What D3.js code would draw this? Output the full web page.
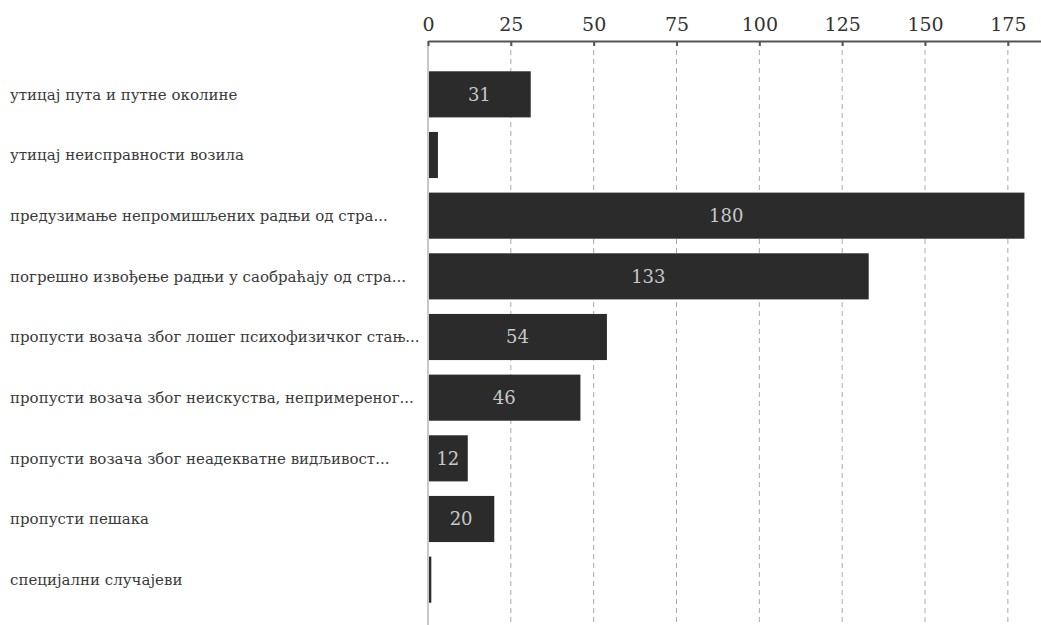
<!DOCTYPE html>
<html><head><meta charset="utf-8">
<script src="https://cdn.jsdelivr.net/npm/d3@7"></script>
<style>body{margin:0;background:#fff}svg{display:block}</style>
</head><body><svg id="c" width="1041" height="625"></svg>
<script>
const categories = [
  "утицај пута и путне околине",
  "утицај неисправности возила",
  "предузимање непромишљених радњи од стра...",
  "погрешно извођење радњи у саобраћају од стра...",
  "пропусти возача због лошег психофизичког стањ...",
  "пропусти возача због неискуства, непримереног...",
  "пропусти возача због неадекватне видљивост...",
  "пропусти пешака",
  "специјални случајеви"
];
const values = [31, 3, 180, 133, 54, 46, 12, 20, 1];
const tickValues = [0, 25, 50, 75, 100, 125, 150, 175];

const svg = d3.select("#c");
const x = d3.scaleLinear().domain([0, 185]).range([428, 1041]);
const y = d3.scaleBand().domain(categories).range([64, 610]).paddingInner(0.24).paddingOuter(0.12);
const font = "DejaVu Serif";

// grid
svg.append("g").selectAll("line").data(tickValues.slice(1)).join("line")
  .attr("x1", d => x(d)).attr("x2", d => x(d)).attr("y1", 41).attr("y2", 625)
  .attr("stroke", "#aaa").attr("stroke-dasharray", "5,4").attr("stroke-width", 1);

// bars
svg.append("g").selectAll("rect").data(values).join("rect")
  .attr("x", x(0)).attr("y", (d, i) => y(categories[i]))
  .attr("width", d => x(d) - x(0)).attr("height", y.bandwidth())
  .attr("fill", "#2b2b2b");

// zero line
svg.append("line").attr("x1", x(0)).attr("x2", x(0)).attr("y1", 41).attr("y2", 625)
  .attr("stroke", "#c8c8c8").attr("stroke-width", 2);

// value labels
svg.append("g").selectAll("text").data(values.map((v, i) => ({v, c: categories[i]})).filter(d => d.v >= 10)).join("text")
  .attr("x", d => (x(d.v) + x(0)) / 2)
  .attr("y", d => y(d.c) + y.bandwidth() / 2)
  .attr("dy", "0.35em").attr("text-anchor", "middle")
  .attr("font-family", font).attr("font-size", 18).attr("fill", "#c8c8c8")
  .text(d => d.v);

// top axis
const axis = d3.axisTop(x).tickValues(tickValues).tickSize(-5).tickSizeOuter(0).tickPadding(10);
const ag = svg.append("g").attr("transform", "translate(0,41)").call(axis);
ag.select(".domain").attr("stroke", "#555").attr("stroke-width", 2);
ag.selectAll(".tick line").attr("stroke", "#555").attr("stroke-width", 2);
ag.selectAll(".tick text").attr("font-family", font).attr("font-size", 19).attr("fill", "#333");

// category labels
svg.append("g").selectAll("text").data(categories).join("text")
  .attr("x", 10).attr("y", d => y(d) + y.bandwidth() / 2).attr("dy", "0.35em")
  .attr("font-family", font).attr("font-size", 15).attr("fill", "#3a3a3a")
  .text(d => d);
</script></body></html>
